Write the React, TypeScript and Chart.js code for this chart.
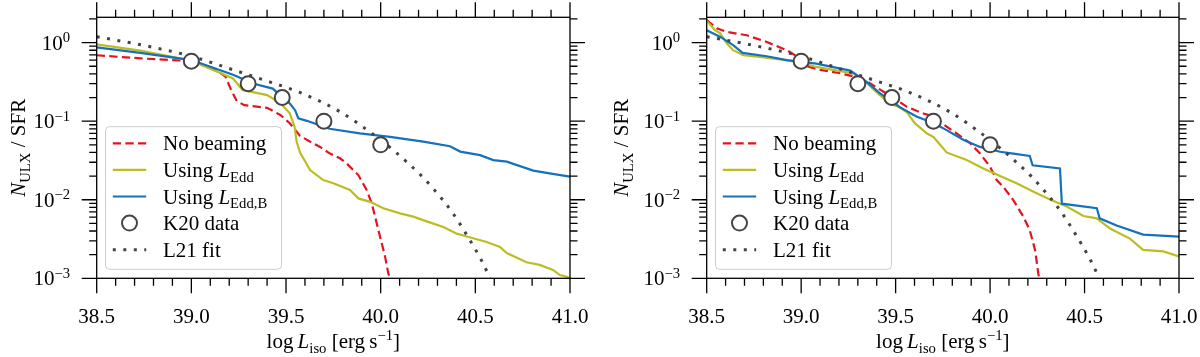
import React, { useEffect, useRef } from 'react';
import { Chart, registerables } from 'chart.js';

Chart.register(...registerables);

const SERIF = '"Liberation Serif", "Times New Roman", Times, serif';
const FS = 21;

// ---- axis ticks ----
const xTickValues = [38.5, 39.0, 39.5, 40.0, 40.5, 41.0];
const yTickValues = [1e-3, 1e-2, 1e-1, 1];
const yTickExponents = ['\u22123', '\u22122', '\u22121', '0'];

// ---- K20 data (both panels) ----
const k20X = [39.0, 39.3, 39.48, 39.7, 40.0];
const k20Y = [0.58, 0.3, 0.2, 0.1, 0.05];

// ---- L21 fit (both panels) ----
const l21X = [38.5, 38.75, 39.0, 39.2, 39.4, 39.57, 39.785, 39.953, 40.067, 40.138, 40.217, 40.278, 40.375, 40.455, 40.534, 40.578];
const l21Y = [1.19, 0.92, 0.67, 0.468, 0.324, 0.234, 0.132, 0.07, 0.0427, 0.0302, 0.02, 0.0138, 0.00708, 0.00355, 0.00166, 0.001];

// ---- left panel ----
const leftNoBeamX = [38.5, 38.73, 38.975, 39.05, 39.13, 39.18, 39.21, 39.24, 39.28, 39.4, 39.47, 39.52, 39.574, 39.644, 39.68, 39.73, 39.785, 39.82, 39.882, 39.926, 39.953, 39.988, 40.023, 40.04, 40.05];
const leftNoBeamY = [0.69, 0.63, 0.586, 0.53, 0.45, 0.37, 0.25, 0.18, 0.16, 0.148, 0.12, 0.094, 0.065, 0.052, 0.047, 0.039, 0.0337, 0.029, 0.0206, 0.0133, 0.009, 0.0041, 0.0019, 0.00116, 0.001];

const leftEddX = [38.5, 38.73, 39.0, 39.22, 39.27, 39.4, 39.47, 39.52, 39.545, 39.556, 39.574, 39.627, 39.697, 39.75, 39.838, 39.882, 39.944, 40.014, 40.102, 40.172, 40.243, 40.331, 40.402, 40.455, 40.56, 40.63, 40.666, 40.77, 40.84, 40.91, 40.947, 40.98, 41.0];
const leftEddY = [0.95, 0.79, 0.59, 0.35, 0.25, 0.215, 0.17, 0.126, 0.085, 0.055, 0.04, 0.0239, 0.0178, 0.0162, 0.0133, 0.0104, 0.0094, 0.0078, 0.0067, 0.0061, 0.0053, 0.0045, 0.0037, 0.0034, 0.0029, 0.0025, 0.0021, 0.0016, 0.00148, 0.00128, 0.0011, 0.00105, 0.001];

const leftEddBX = [38.5, 38.73, 39.0, 39.22, 39.33, 39.43, 39.468, 39.52, 39.548, 39.565, 39.61, 39.73, 39.89, 40.05, 40.225, 40.366, 40.42, 40.525, 40.595, 40.666, 40.806, 40.9, 41.0];
const leftEddBY = [0.87, 0.74, 0.6, 0.39, 0.3, 0.26, 0.215, 0.168, 0.138, 0.109, 0.101, 0.08, 0.07, 0.063, 0.055, 0.048, 0.041, 0.037, 0.032, 0.0305, 0.0235, 0.0215, 0.0197];

// ---- right panel ----
const rightNoBeamX = [38.5, 38.553, 38.606, 38.712, 38.818, 38.924, 39.0, 39.03, 39.1, 39.2, 39.28, 39.35, 39.42, 39.48, 39.56, 39.647, 39.7, 39.77, 39.823, 39.894, 39.947, 40.0, 40.035, 40.07, 40.123, 40.176, 40.21, 40.238, 40.255, 40.26];
const rightNoBeamY = [1.93, 1.52, 1.37, 1.24, 1.02, 0.8, 0.62, 0.5, 0.45, 0.41, 0.37, 0.32, 0.25, 0.205, 0.152, 0.125, 0.115, 0.085, 0.07, 0.0525, 0.0387, 0.0263, 0.0178, 0.0146, 0.0099, 0.0061, 0.0041, 0.0023, 0.00116, 0.001];

const rightEddX = [38.5, 38.544, 38.57, 38.606, 38.64, 38.694, 38.78, 38.888, 38.976, 39.08, 39.276, 39.35, 39.417, 39.47, 39.52, 39.56, 39.6, 39.665, 39.7, 39.77, 39.876, 39.964, 40.053, 40.14, 40.23, 40.317, 40.406, 40.494, 40.565, 40.635, 40.74, 40.81, 40.917, 41.0];
const rightEddY = [1.9, 1.44, 1.32, 0.98, 0.8, 0.69, 0.66, 0.61, 0.57, 0.49, 0.405, 0.3, 0.215, 0.168, 0.15, 0.13, 0.095, 0.07, 0.063, 0.04, 0.032, 0.025, 0.02, 0.0162, 0.0126, 0.0101, 0.0082, 0.0062, 0.0058, 0.0043, 0.0032, 0.0023, 0.0022, 0.0019];

const rightEddBX = [38.5, 38.57, 38.64, 38.69, 38.818, 38.924, 39.08, 39.26, 39.347, 39.417, 39.48, 39.52, 39.61, 39.7, 39.77, 39.86, 39.947, 40.053, 40.123, 40.21, 40.225, 40.37, 40.38, 40.45, 40.565, 40.58, 40.67, 40.81, 41.0];
const rightEddBY = [1.44, 1.19, 0.93, 0.74, 0.67, 0.6, 0.54, 0.44, 0.316, 0.226, 0.18, 0.152, 0.115, 0.095, 0.077, 0.0575, 0.047, 0.0408, 0.0387, 0.036, 0.0275, 0.025, 0.0089, 0.0085, 0.0078, 0.0058, 0.0047, 0.0036, 0.0034];

const RED = '#e3141e';
const YEL = '#bcbd22';
const BLUE = '#1570bd';
const GRAY = '#444444';
const RED_DASH = [8.3, 4.3];
const DOT_DASH = [3, 7.5];

type Part = { t: string; it?: boolean; sub?: boolean; sup?: boolean };

const legendParts: Part[][] = [
  [{ t: 'No beaming' }],
  [{ t: 'Using ' }, { t: 'L', it: true }, { t: 'Edd', sub: true }],
  [{ t: 'Using ' }, { t: 'L', it: true }, { t: 'Edd,B', sub: true }],
  [{ t: 'K20 data' }],
  [{ t: 'L21 fit' }],
];
const xTitleParts: Part[] = [
  { t: 'log\u2009' }, { t: 'L', it: true }, { t: 'iso', sub: true },
  { t: ' [erg\u2009s' }, { t: '\u22121', sup: true }, { t: ']' },
];
const yTitleParts: Part[] = [{ t: 'N', it: true }, { t: 'ULX', sub: true }, { t: ' / SFR' }];

function drawRich(ctx: CanvasRenderingContext2D, parts: Part[], x: number, y: number, size: number, align: 'left' | 'center' | 'right') {
  const small = size * 0.7;
  const fontFor = (p: Part) => `${p.it ? 'italic ' : ''}${p.sub || p.sup ? small : size}px ${SERIF}`;
  let total = 0;
  const widths = parts.map((p) => {
    ctx.font = fontFor(p);
    const w = ctx.measureText(p.t).width;
    total += w;
    return w;
  });
  let cx = align === 'left' ? x : align === 'center' ? x - total / 2 : x - total;
  ctx.textAlign = 'left';
  ctx.textBaseline = 'alphabetic';
  parts.forEach((p, i) => {
    ctx.font = fontFor(p);
    const dy = p.sub ? size * 0.22 : p.sup ? -size * 0.36 : 0;
    ctx.fillText(p.t, cx, y + dy);
    cx += widths[i];
  });
}

function toPts(xs: number[], ys: number[]) {
  return xs.map((x, i) => ({ x, y: ys[i] }));
}

type PanelProps = {
  left: number;
  yAxisWidth: number;
  rightPad: number;
  yTitleX: number;
  noBeamX: number[]; noBeamY: number[];
  eddX: number[]; eddY: number[];
  eddBX: number[]; eddBY: number[];
};

function Panel(props: PanelProps) {
  const ref = useRef<HTMLCanvasElement | null>(null);
  useEffect(() => {
    if (!ref.current) return;
    const decor = {
      id: 'decor',
      afterDatasetsDraw(chart: any) {
        const { ctx, chartArea: a, scales } = chart;
        const xs = scales.x;
        const ys = scales.y;
        ctx.save();
        ctx.strokeStyle = '#000';
        ctx.fillStyle = '#000';
        ctx.lineWidth = 1.3;
        ctx.setLineDash([]);
        ctx.strokeRect(a.left, a.top, a.right - a.left, a.bottom - a.top);
        const MAJ = 15;
        const MIN = 7.5;
        ctx.beginPath();
        for (let i = 0; i <= 25; i++) {
          const v = 38.5 + i * 0.1;
          const px = xs.getPixelForValue(v);
          const L = i % 5 === 0 ? MAJ : MIN;
          ctx.moveTo(px, a.bottom); ctx.lineTo(px, a.bottom + L);
          ctx.moveTo(px, a.top); ctx.lineTo(px, a.top - L);
        }
        for (let e = -3; e <= 0; e++) {
          for (let k = 1; k <= 9; k++) {
            const v = k * Math.pow(10, e);
            if (v > ys.max) continue;
            const py = ys.getPixelForValue(v);
            const L = k === 1 ? MAJ : MIN;
            ctx.moveTo(a.left, py); ctx.lineTo(a.left - L, py);
            ctx.moveTo(a.right, py); ctx.lineTo(a.right + L, py);
          }
        }
        ctx.stroke();

        // y tick labels
        yTickValues.forEach((v, i) => {
          const py = ys.getPixelForValue(v);
          drawRich(ctx, [{ t: '10' }, { t: yTickExponents[i], sup: true }], a.left - 26.5, py + 7, FS, 'right');
        });

        // axis titles
        drawRich(ctx, xTitleParts, (a.left + a.right) / 2, 348, FS, 'center');
        ctx.save();
        ctx.translate(props.yTitleX, (a.top + a.bottom) / 2);
        ctx.rotate(-Math.PI / 2);
        drawRich(ctx, yTitleParts, 0, 0, FS, 'center');
        ctx.restore();

        // legend
        const bx = a.left + 8.8;
        const by = 126.7;
        const bw = 176;
        const bh = 142.6;
        ctx.beginPath();
        (ctx as any).roundRect(bx, by, bw, bh, 4);
        ctx.fillStyle = 'rgba(255,255,255,0.8)';
        ctx.fill();
        ctx.strokeStyle = '#cccccc';
        ctx.lineWidth = 1;
        ctx.stroke();
        const hx0 = bx + 7.3;
        const hx1 = bx + 40.7;
        const tx = bx + 57.5;
        legendParts.forEach((parts, i) => {
          const cy = by + 16.6 + i * 26.6;
          ctx.save();
          if (i === 3) {
            ctx.beginPath();
            ctx.arc((hx0 + hx1) / 2, cy, 7.5, 0, Math.PI * 2);
            ctx.fillStyle = '#fff';
            ctx.fill();
            ctx.lineWidth = 2;
            ctx.strokeStyle = GRAY;
            ctx.stroke();
          } else {
            ctx.beginPath();
            ctx.moveTo(hx0, cy);
            ctx.lineTo(hx1, cy);
            if (i === 0) { ctx.strokeStyle = RED; ctx.lineWidth = 2.2; ctx.setLineDash(RED_DASH); }
            if (i === 1) { ctx.strokeStyle = YEL; ctx.lineWidth = 2.2; }
            if (i === 2) { ctx.strokeStyle = BLUE; ctx.lineWidth = 2.2; }
            if (i === 4) { ctx.strokeStyle = GRAY; ctx.lineWidth = 3; ctx.setLineDash(DOT_DASH); }
            ctx.lineCap = 'butt';
            ctx.stroke();
          }
          ctx.restore();
          ctx.fillStyle = '#000';
          drawRich(ctx, parts, tx, cy + 7, FS, 'left');
        });
        ctx.restore();
      },
    };

    const chart = new Chart(ref.current, {
      type: 'line',
      data: {
        datasets: [
          {
            label: 'K20 data', data: toPts(k20X, k20Y), showLine: false, order: 0,
            pointRadius: 7.5, pointBorderWidth: 2, pointBorderColor: GRAY, pointBackgroundColor: '#ffffff',
          },
          {
            label: 'L21 fit', data: toPts(l21X, l21Y), order: 1, borderColor: GRAY, borderWidth: 3,
            borderDash: DOT_DASH, borderCapStyle: 'butt', pointRadius: 0, cubicInterpolationMode: 'monotone',
          },
          {
            label: 'Using L_Edd,B', data: toPts(props.eddBX, props.eddBY), order: 2, borderColor: BLUE, borderWidth: 2.2, pointRadius: 0,
          },
          {
            label: 'Using L_Edd', data: toPts(props.eddX, props.eddY), order: 3, borderColor: YEL, borderWidth: 2.2, pointRadius: 0,
          },
          {
            label: 'No beaming', data: toPts(props.noBeamX, props.noBeamY), order: 4, borderColor: RED, borderWidth: 2.2,
            borderDash: RED_DASH, pointRadius: 0,
          },
        ] as any,
      },
      options: {
        animation: false,
        responsive: false,
        devicePixelRatio: 1,
        layout: { padding: { top: 17.3, right: props.rightPad, bottom: 0, left: 0 } },
        plugins: { legend: { display: false }, tooltip: { enabled: false } },
        scales: {
          x: {
            type: 'linear', min: 38.5, max: 41,
            afterBuildTicks: (s: any) => { s.ticks = xTickValues.map((v) => ({ value: v })); },
            ticks: {
              callback: (v: any) => Number(v).toFixed(1),
              font: { family: SERIF, size: FS }, color: '#000', padding: 19, maxRotation: 0, autoSkip: false,
            },
            grid: { display: false },
            border: { display: false },
            afterFit: (s: any) => { s.height = 357 - 278.3; s.paddingLeft = 0; s.paddingRight = 0; },
          },
          y: {
            type: 'logarithmic', min: 1e-3, max: 2.1,
            afterBuildTicks: (s: any) => { s.ticks = yTickValues.map((v) => ({ value: v })); },
            ticks: { display: false },
            grid: { display: false },
            border: { display: false },
            afterFit: (s: any) => { s.width = props.yAxisWidth; s.paddingTop = 0; s.paddingBottom = 0; },
          },
        },
      } as any,
      plugins: [decor],
    });
    return () => chart.destroy();
  }, []);
  return (
    <canvas
      ref={ref}
      width={600}
      height={357}
      style={{ position: 'absolute', left: props.left, top: 0, width: 600, height: 357 }}
    />
  );
}

export default function App() {
  return (
    <div style={{ position: 'absolute', left: 0, top: 0, width: 1200, height: 357, background: '#fff' }}>
      <Panel left={0} yAxisWidth={96.7} rightPad={30} yTitleX={25}
        noBeamX={leftNoBeamX} noBeamY={leftNoBeamY} eddX={leftEddX} eddY={leftEddY} eddBX={leftEddBX} eddBY={leftEddBY} />
      <Panel left={600} yAxisWidth={106.7} rightPad={21} yTitleX={28}
        noBeamX={rightNoBeamX} noBeamY={rightNoBeamY} eddX={rightEddX} eddY={rightEddY} eddBX={rightEddBX} eddBY={rightEddBY} />
    </div>
  );
}
